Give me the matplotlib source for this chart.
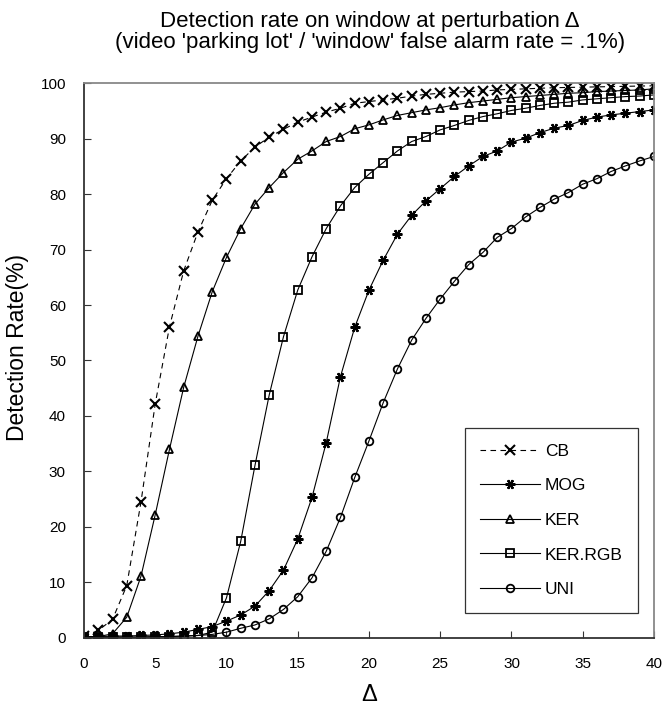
import matplotlib
matplotlib.use("Agg")
import matplotlib.pyplot as plt

plt.rcParams['font.family'] = ['Liberation Sans', 'DejaVu Sans']

delta = list(range(41))

cb = [0.3, 1.3, 3.3, 9.4, 24.5, 42.2, 56.1, 66.2, 73.2, 78.9,
      82.8, 86.0, 88.5, 90.3, 91.7, 93.0, 93.9, 94.8, 95.5, 96.4,
      96.7, 97.0, 97.3, 97.7, 98.0, 98.2, 98.4, 98.5, 98.6, 98.8,
      98.9, 99.0, 99.1, 99.2, 99.25, 99.3, 99.35, 99.4, 99.45, 99.5,
      99.55]

mog = [0.2, 0.2, 0.3, 0.3, 0.4, 0.5, 0.7, 1.0, 1.5, 2.0,
       3.0, 4.1, 5.7, 8.5, 12.2, 17.8, 25.3, 35.2, 47.1, 56.0,
       62.7, 68.1, 72.8, 76.2, 78.8, 81.0, 83.2, 85.1, 86.8, 87.8,
       89.4, 90.1, 91.1, 91.9, 92.4, 93.3, 93.9, 94.3, 94.6, 94.9,
       95.2]

ker = [0.1, 0.2, 0.7, 3.7, 11.1, 22.2, 34.0, 45.2, 54.4, 62.4,
       68.6, 73.8, 78.2, 81.2, 83.9, 86.3, 87.8, 89.5, 90.4, 91.8,
       92.5, 93.4, 94.2, 94.7, 95.2, 95.6, 96.1, 96.5, 96.8, 97.1,
       97.4, 97.6, 97.8, 98.0, 98.2, 98.3, 98.5, 98.6, 98.7, 98.8,
       99.0]

ker_rgb = [0.1, 0.1, 0.1, 0.1, 0.1, 0.2, 0.2, 0.3, 0.4, 1.0,
           7.2, 17.4, 31.1, 43.8, 54.3, 62.7, 68.7, 73.8, 77.9, 81.2,
           83.6, 85.7, 87.8, 89.5, 90.4, 91.6, 92.4, 93.3, 94.0, 94.5,
           95.1, 95.5, 96.0, 96.4, 96.6, 97.0, 97.2, 97.4, 97.6, 97.7,
           97.9]

uni = [0.1, 0.1, 0.1, 0.1, 0.1, 0.2, 0.2, 0.3, 0.4, 0.6,
       1.0, 1.7, 2.3, 3.4, 5.1, 7.4, 10.8, 15.6, 21.7, 28.9,
       35.5, 42.4, 48.5, 53.7, 57.6, 61.1, 64.3, 67.3, 69.5, 72.2,
       73.8, 75.9, 77.6, 79.1, 80.3, 81.8, 82.8, 84.1, 85.1, 86.0,
       86.8]

fig = plt.figure(figsize=(6.63, 7.13), dpi=100)
ax = fig.add_axes([0.1267, 0.1056, 0.8597, 0.7776])

style = dict(color='black', linewidth=0.8, markerfacecolor='none',
             markeredgecolor='black')

ax.plot(delta, cb, linestyle=(0, (5, 4)), marker='x', markersize=6.5,
        markeredgewidth=1.5, label='CB', **style)
ax.plot(delta, mog, linestyle='-', marker=(6, 2, 30), markersize=7,
        markeredgewidth=1.6, label='MOG', **style)
ax.plot(delta, ker, linestyle='-', marker='^', markersize=5.5,
        markeredgewidth=1.3, label='KER', **style)
ax.plot(delta, ker_rgb, linestyle='-', marker='s', markersize=5.5,
        markeredgewidth=1.3, label='KER.RGB', **style)
ax.plot(delta, uni, linestyle='-', marker='o', markersize=5.5,
        markeredgewidth=1.3, label='UNI', **style)

ax.set_xlim(0, 40)
ax.set_ylim(0, 100)
ax.set_xticks(range(0, 41, 5))
ax.set_yticks(range(0, 101, 10))
ax.tick_params(direction='in', length=5, labelsize=11, color='#333333')
ax.tick_params(axis='x', pad=14)
ax.tick_params(axis='y', pad=13)

for side in ('left', 'bottom'):
    ax.spines[side].set_color('#333333')
    ax.spines[side].set_linewidth(1.3)
for side in ('top', 'right'):
    ax.spines[side].set_color('#888888')
    ax.spines[side].set_linewidth(1.3)

ax.set_xlabel('Δ', fontsize=17)
ax.xaxis.set_label_coords(0.5, -0.103)
ax.xaxis.label.set_va('center')
ax.set_ylabel('Detection Rate(%)', fontsize=16.5)
ax.yaxis.set_label_coords(-0.097, 0.523)

fig.text(0.558, 0.962, 'Detection rate on window at perturbation Δ',
         ha='center', va='baseline', fontsize=16)
fig.text(0.558, 0.933, "(video 'parking lot' / 'window' false alarm rate = .1%)",
         ha='center', va='baseline', fontsize=16)

leg = ax.legend(loc='lower right', bbox_to_anchor=(0.9725, 0.045),
                borderaxespad=0, fontsize=12.5, handlelength=3.45,
                handletextpad=0.27, labelspacing=1.12, borderpad=0.9,
                fancybox=False, framealpha=1, edgecolor='#333333')
leg.get_frame().set_linewidth(0.9)

fig.savefig('out.png', dpi=100)
